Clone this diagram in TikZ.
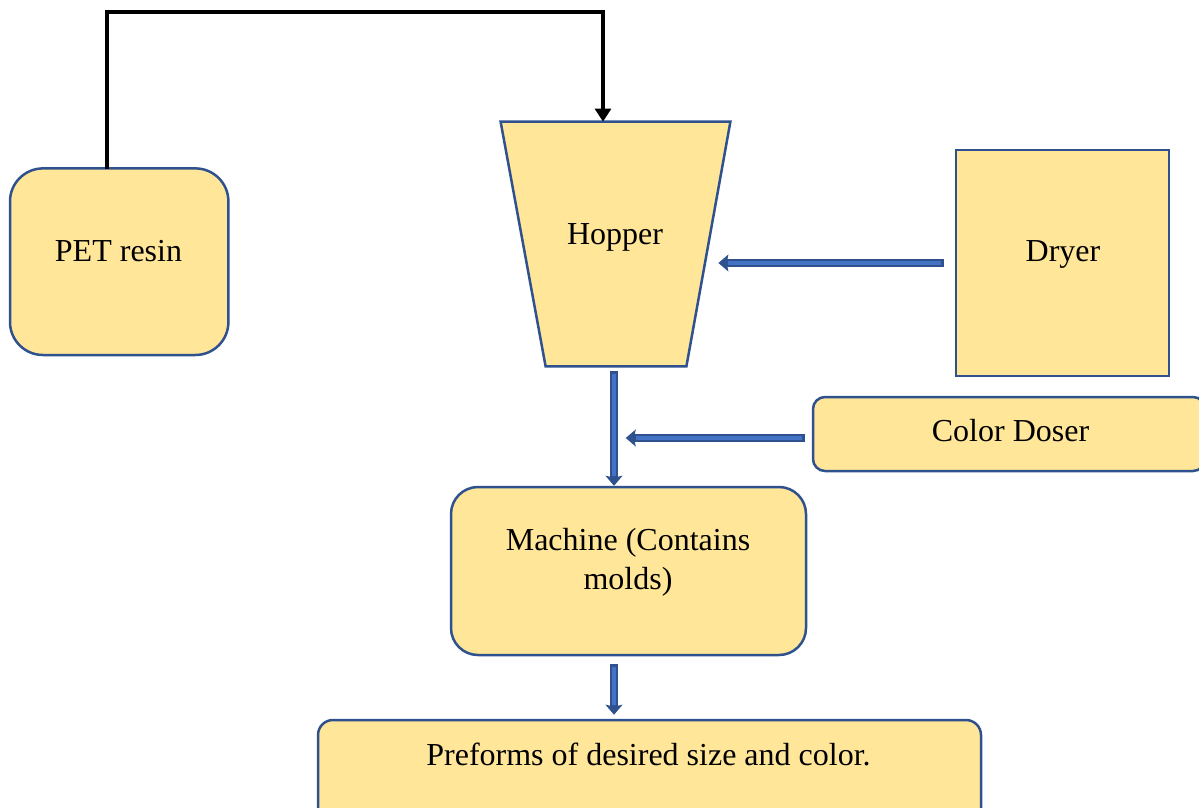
\documentclass[tikz,border=0pt]{standalone}
\usepackage{fontspec}
\setmainfont{Liberation Serif}
\usetikzlibrary{arrows.meta,calc}

\definecolor{boxfill}{HTML}{FFE699}
\definecolor{boxline}{HTML}{2F528F}
\definecolor{pipeout}{HTML}{2F528F}
\definecolor{pipein}{HTML}{4472C4}

\tikzset{
  unit/.style={x=0.5pt,y=-0.5pt},
  stage/.style={draw=boxline,fill=boxfill,line width=1.25pt,inner sep=0pt},
  hopperframe/.style={inner sep=0pt},
  label text/.style={inner sep=0pt,anchor=base,text=black,
    font=\fontsize{16}{19.5}\selectfont},
  feed/.style={draw=black,line width=2pt,line cap=rect,
    -{Triangle[length=6.5pt,width=8pt]}},
  pipe/.style={draw=pipeout,line width=4.4pt,
    -{Stealth[length=5pt,width=8.5pt,inset=0.9pt,line width=0.5pt,fill=pipeout]},
    postaction={draw=pipein,line width=1.6pt,-,shorten >=5pt,shorten <=1.4pt}},
}

\begin{document}
\begin{tikzpicture}[unit]
\useasboundingbox (0,0) rectangle (1199,808);
\clip (0,0) rectangle (1199,808);

% process stages
\node[stage,rounded corners=16.5pt,minimum width=109.2pt,minimum height=93.3pt]
  (pet) at (119.2,261.7) {};
\node[hopperframe,minimum width=114.5pt,minimum height=122pt]
  (hopper) at (615.5,244) {};
\draw[stage] (hopper.north west) -- (hopper.north east)
  -- ($(hopper.south east)+(-44,0)$) -- ($(hopper.south west)+(45,0)$) -- cycle;
\node[stage,minimum width=106.5pt,minimum height=113pt]
  (dryer) at (1062.5,263) {};
\node[stage,rounded corners=6pt,minimum width=196pt,minimum height=37pt]
  (doser) at (1009,434) {};
\node[stage,rounded corners=13.5pt,minimum width=177.5pt,minimum height=84pt]
  (machine) at (628.5,571) {};
\node[stage,rounded corners=7.5pt,minimum width=331.5pt,minimum height=53pt]
  (preforms) at (649.5,773) {};

% stage labels
\node[label text] (petT) at (118.5,261) {PET resin};
\node[label text] (hopperT) at (615,244) {Hopper};
\node[label text] (dryerT) at (1063,261.7) {Dryer};
\node[label text] (doserT) at (1010.5,441.7) {Color Doser};
\node[label text] (machineT) at (628,550.7)
  {\begin{tabular}[t]{@{}c@{}}Machine (Contains\\molds)\end{tabular}};
\node[label text] (preformsT) at (648.5,765.7) {Preforms of desired size and color.};

% resin feed line over the top
\coordinate (feedlevel) at (0,12);
\coordinate (feedstart) at ($(pet.north)+(-12.2,0)$);
\coordinate (feedend) at ($(hopper.north)+(-12.5,0)$);
\draw[feed] (feedstart) -- (feedstart |- feedlevel) -- (feedend |- feedlevel) -- (feedend);

% material transfer arrows
\draw[pipe] ($(dryer.west)+(-11,0)$) -- ($(hopper.east |- dryer.west)+(-12,0)$);
\draw[pipe] ($(hopper.south)+(-1.5,5)$) -- ($(machine.north)+(-14.5,0)$);
\draw[pipe] ($(doser.west)+(-7,4)$) -- ($(doser.west)+(-186,4)$);
\draw[pipe] ($(machine.south)+(-14.5,8)$) -- ($(preforms.north)+(-35.5,-4)$);
\end{tikzpicture}
\end{document}
